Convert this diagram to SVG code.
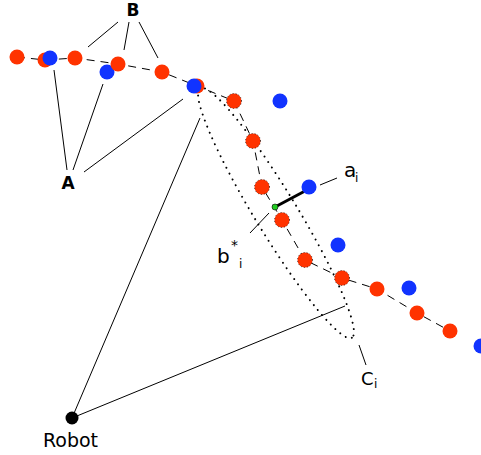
<svg xmlns="http://www.w3.org/2000/svg" width="481" height="455" viewBox="0 0 481 455">
<style>
.ln{stroke:#000;stroke-width:1;fill:none}
.dash{stroke:#000;stroke-width:1;fill:none;stroke-dasharray:8 6}
.dot{stroke:#000;stroke-width:2;fill:none;stroke-dasharray:0 6.5;stroke-linecap:round}
.r{fill:#ff3300}
.rd{fill:#ff3300;stroke:#000;stroke-width:0.8;stroke-dasharray:0.1 3;stroke-linecap:round}
.b{fill:#1133ff}
.lbl{font-family:"DejaVu Sans",sans-serif;fill:#000}
.bold{font-weight:bold;font-size:17px}
.sub{font-size:12px}
</style>
<rect width="481" height="455" fill="#fff"/>
<g id="connectors">
<polyline class="dash" points="17,57 45,60 75,58 118,64 162,72 197,86 234,101 253,141 262,187 282,220 305,260 342,278 377,289 417,313 450,331"/>
<ellipse class="dot" cx="276" cy="213" rx="146" ry="21" transform="rotate(58.7 276 213)"/>
<line class="ln" x1="118" y1="22" x2="88" y2="47"/>
<line class="ln" x1="129" y1="22" x2="124" y2="50"/>
<line class="ln" x1="139" y1="22" x2="158" y2="58"/>
<line class="ln" x1="67" y1="170" x2="54" y2="70"/>
<line class="ln" x1="73" y1="170" x2="103" y2="84"/>
<line class="ln" x1="84" y1="172" x2="183" y2="99"/>
<line class="ln" x1="200" y1="118" x2="72" y2="418"/>
<line class="ln" x1="72" y1="418" x2="345" y2="306"/>
<line class="ln" x1="359" y1="345" x2="366" y2="365"/>
<line class="ln" x1="320" y1="185" x2="337" y2="178"/>
<line class="ln" x1="250" y1="233" x2="269" y2="213"/>
<line stroke="#000" stroke-width="3" x1="275" y1="207" x2="305" y2="191"/>
</g>
<g id="points">
<circle class="r" cx="17" cy="57" r="7.5"/>
<circle class="r" cx="45" cy="60" r="7.5"/>
<circle class="b" cx="50" cy="58" r="7.5"/>
<circle class="r" cx="75" cy="58" r="7.5"/>
<circle class="b" cx="107" cy="72" r="7.5"/>
<circle class="r" cx="118" cy="64" r="7.5"/>
<circle class="r" cx="162" cy="72" r="7.5"/>
<circle class="r" cx="197" cy="86" r="7.5"/>
<circle class="b" cx="194" cy="86" r="7.5"/>
<circle class="rd" cx="234" cy="101" r="7.5"/>
<circle class="rd" cx="253" cy="141" r="7.5"/>
<circle class="rd" cx="262" cy="187" r="7.5"/>
<circle class="rd" cx="282" cy="220" r="7.5"/>
<circle class="rd" cx="305" cy="260" r="7.5"/>
<circle class="rd" cx="342" cy="278" r="7.5"/>
<circle class="r" cx="377" cy="289" r="7.5"/>
<circle class="r" cx="417" cy="313" r="7.5"/>
<circle class="r" cx="450" cy="331" r="7.5"/>
<circle class="b" cx="280" cy="101" r="7.5"/>
<circle class="b" cx="309" cy="187" r="7.5"/>
<circle class="b" cx="338" cy="245" r="7.5"/>
<circle class="b" cx="409" cy="288" r="7.5"/>
<circle class="b" cx="481" cy="346" r="7.5"/>
<circle fill="#22cc22" stroke="#000" stroke-width="0.6" cx="275" cy="207" r="3"/>
</g>
<g id="B"><text class="lbl bold" x="133" y="16" text-anchor="middle">B</text></g>
<g id="A"><text class="lbl bold" x="68" y="189" text-anchor="middle">A</text></g>
<g id="Robot"><circle cx="72" cy="418" r="6.5" fill="#000"/><text class="lbl" font-size="19" x="70.5" y="447" text-anchor="middle">Robot</text></g>
<g id="Ci"><text class="lbl" font-size="18" x="361" y="385">C</text><text class="lbl sub" x="374" y="388">i</text></g>
<g id="ai"><text class="lbl" font-size="20" x="344" y="177">a</text><text class="lbl sub" x="355" y="182">i</text></g>
<g id="bi"><text class="lbl" font-size="20" x="217" y="263">b</text><text class="lbl" font-size="14" x="231" y="250">*</text><text class="lbl sub" x="239" y="268">i</text></g>
</svg>
